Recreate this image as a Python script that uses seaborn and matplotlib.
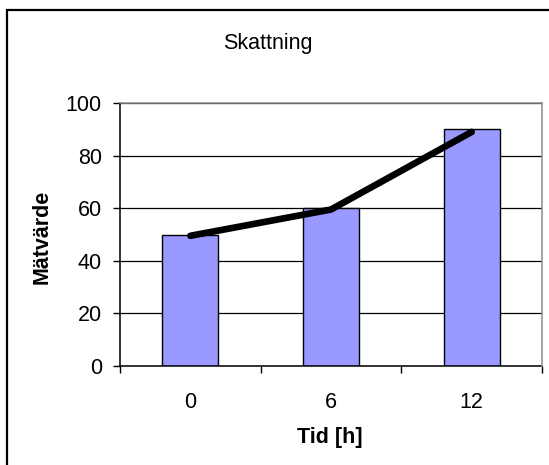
import matplotlib
matplotlib.use("Agg")
import matplotlib.pyplot as plt
from matplotlib.patches import Rectangle
from matplotlib.ticker import FixedLocator, NullFormatter, FixedFormatter
import seaborn as sns
import pandas as pd

# Measured values per time point, and the estimated trend line
categories = ["0", "6", "12"]
bar_values = [50, 60, 90]
line_values = [49.5, 59.5, 89]
y_ticks = [0, 20, 40, 60, 80, 100]

title = "Skattning"
x_label = "Tid [h]"
y_label = "Mätvärde"

sns.set_theme(style="white")
plt.rcParams["font.family"] = ["Liberation Sans", "DejaVu Sans"]

W, H = 549, 465
fig = plt.figure(figsize=(W / 100, H / 100), dpi=100)
fig.patch.set_facecolor("white")

left, right, top, bottom = 120, 542, 103, 366
ax = fig.add_axes([left / W, 1 - bottom / H, (right - left) / W, (bottom - top) / H])
ax.set_facecolor("white")

df = pd.DataFrame({"tid": categories, "varde": bar_values})
sns.barplot(data=df, x="tid", y="varde", order=categories, color="#9999FF",
            saturation=1, width=0.4, edgecolor="black", linewidth=1.0,
            ax=ax, zorder=2)

line_df = pd.DataFrame({"tid": categories, "varde": line_values})
sns.pointplot(data=line_df, x="tid", y="varde", order=categories, color="black",
              markers="", errorbar=None, ax=ax, zorder=4)
for ln in ax.lines:
    ln.set_linewidth(4.8)
    ln.set_solid_capstyle("round")
    ln.set_solid_joinstyle("round")

ax.set_xlim(-0.5, 2.5)
ax.set_ylim(0, 100)

# Horizontal gridlines
ax.set_yticks(y_ticks)
ax.yaxis.grid(True, color="black", linewidth=0.9, zorder=1)
ax.xaxis.grid(False)
ax.set_axisbelow(True)

# Category boundary ticks, labels centred between them
ax.xaxis.set_major_locator(FixedLocator([-0.5, 0.5, 1.5, 2.5]))
ax.xaxis.set_major_formatter(NullFormatter())
ax.xaxis.set_minor_locator(FixedLocator([0, 1, 2]))
ax.xaxis.set_minor_formatter(FixedFormatter(categories))
ax.tick_params(axis="x", which="major", direction="out", length=5, width=1,
               color="black", bottom=True)
ax.tick_params(axis="x", which="minor", length=0, pad=19, labelsize=15.5,
               labelcolor="black", bottom=True)
ax.tick_params(axis="y", which="major", direction="out", length=5, width=1,
               color="black", pad=8, labelsize=15.5, labelcolor="black", left=True)

ax.set_xlabel("")
ax.set_ylabel("")

for side in ["left", "bottom"]:
    ax.spines[side].set_color("black")
    ax.spines[side].set_linewidth(1.1)
for side in ["top", "right"]:
    ax.spines[side].set_visible(True)
    ax.spines[side].set_color("#8c8c8c")
    ax.spines[side].set_linewidth(1.1)
    ax.spines[side].set_zorder(3)

fig.text(268 / W, 1 - 44 / H, title, ha="center", va="center", fontsize=15.5,
         color="black")
fig.text(329.5 / W, 1 - 437 / H, x_label, ha="center", va="center",
         fontsize=15.5, fontweight="bold", color="black")
fig.text(42 / W, 1 - 237 / H, y_label, ha="center", va="center", rotation=90,
         fontsize=15.5, fontweight="bold", color="black")

# Chart frame
fig.patches.append(Rectangle((7 / W, -0.2), 1.2, 1.2 - 10.5 / H + 0.0,
                             transform=fig.transFigure, fill=False,
                             edgecolor="black", linewidth=1.6))

fig.savefig("out.png", dpi=100, facecolor="white")
